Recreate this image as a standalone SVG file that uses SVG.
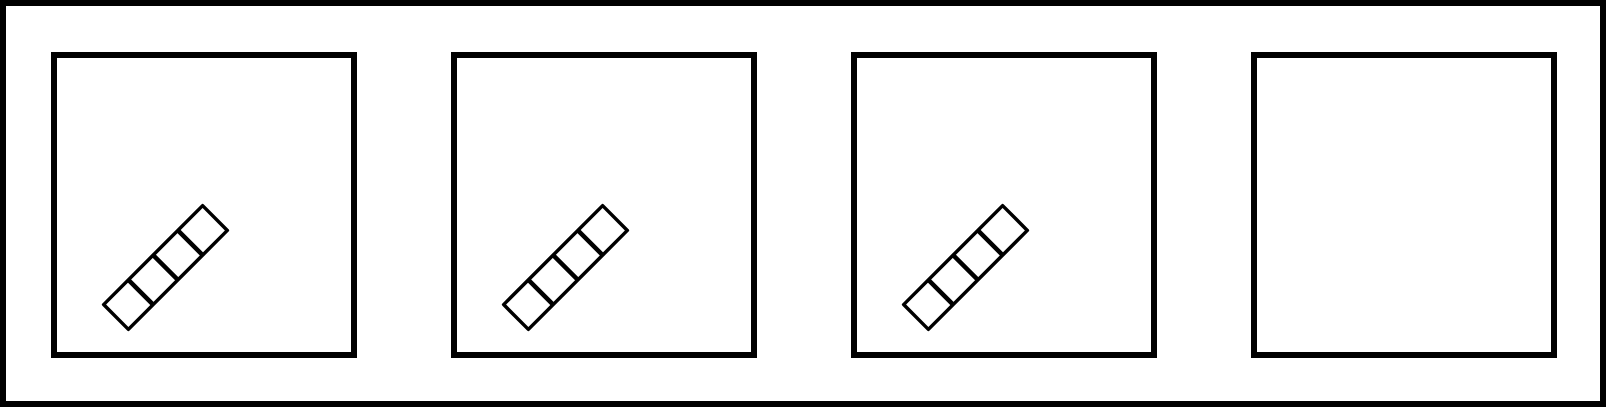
<svg xmlns="http://www.w3.org/2000/svg" width="1606" height="407" viewBox="0 0 1606 407">
<style>
.frame{fill:#fff;stroke:#000;stroke-width:6}
.box{fill:#fff;stroke:#000;stroke-width:6}
.strip{fill:none;stroke:#000;stroke-width:3.5;stroke-linejoin:round}
.div{stroke:#000;stroke-width:4.5}
</style>
<defs>
<g id="ladder">
<rect class="strip" x="-70" y="-17.5" width="140" height="35"/>
<line class="div" x1="-35" y1="-17.5" x2="-35" y2="17.5"/>
<line class="div" x1="0" y1="-17.5" x2="0" y2="17.5"/>
<line class="div" x1="35" y1="-17.5" x2="35" y2="17.5"/>
</g>
</defs>
<rect id="frame" class="frame" x="3" y="3" width="1600" height="401"/>
<g id="panel1">
<rect class="box" x="54" y="55" width="300" height="300"/>
<use href="#ladder" transform="translate(165.5,267.5) rotate(-45)"/>
</g>
<g id="panel2">
<rect class="box" x="454" y="55" width="300" height="300"/>
<use href="#ladder" transform="translate(565.5,267.5) rotate(-45)"/>
</g>
<g id="panel3">
<rect class="box" x="854" y="55" width="300" height="300"/>
<use href="#ladder" transform="translate(965.5,267.5) rotate(-45)"/>
</g>
<g id="panel4">
<rect class="box" x="1254" y="55" width="300" height="300"/>
</g>
<g id="connectors"></g>
</svg>
